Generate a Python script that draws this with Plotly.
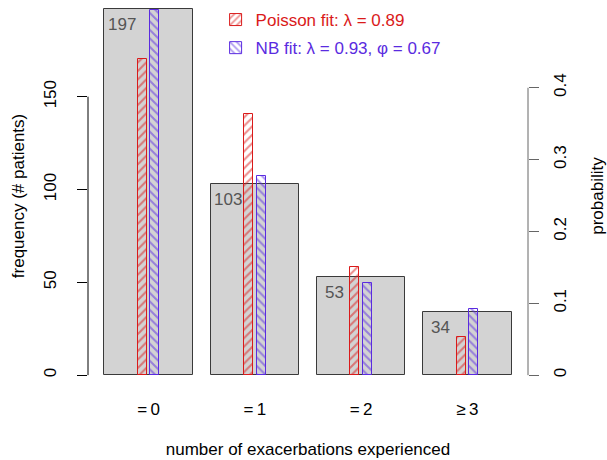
import plotly.graph_objects as go

categories = ["=\u20090", "=\u20091", "=\u20092", "\u2265\u20093"]
counts = [197, 103, 53, 34]
poisson_prob = [0.440, 0.363, 0.150, 0.053]
nb_prob = [0.508, 0.277, 0.128, 0.092]
poisson_name = "Poisson fit: \u03bb = 0.89"
nb_name = "NB fit: \u03bb = 0.93, \u03c6 = 0.67"
left_ticks = [0, 50, 100, 150]
right_ticks = [0, 0.1, 0.2, 0.3, 0.4]

RED = "#DA1A1A"
BLUE = "#5A2BE0"
FONT = "Liberation Sans, Arial, Helvetica, sans-serif"
FS = 17

N = sum(counts)
space, bw = 0.2, 1.0
centers = [space + bw / 2 + i * (space + bw) for i in range(len(counts))]
x_lo = space - 0.04 * (len(counts) * (space + bw) - space)
x_hi = len(counts) * (space + bw) + 0.04 * (len(counts) * (space + bw) - space)
y_rng = [-8, 201]
hw, off = 0.1, 0.071

fig = go.Figure()
fig.add_trace(go.Bar(
    x=centers, y=counts, width=bw,
    marker=dict(color="#D3D3D3", line=dict(color="#3a3a3a", width=1)),
    showlegend=False, hoverinfo="skip"))
fig.add_trace(go.Bar(
    x=[c - off for c in centers], y=poisson_prob, width=hw, yaxis="y2",
    name=f'<span style="color:{RED}">{poisson_name}</span>', legendgroup="p",
    marker=dict(color="rgba(0,0,0,0)", line=dict(color=RED, width=1),
                pattern=dict(shape="/", fgcolor=RED, bgcolor="rgba(0,0,0,0)",
                             fillmode="overlay", size=6, solidity=0.35))))
fig.add_trace(go.Bar(
    x=[c + off for c in centers], y=nb_prob, width=hw, yaxis="y2",
    name=f'<span style="color:{BLUE}">{nb_name}</span>', legendgroup="n",
    marker=dict(color="rgba(0,0,0,0)", line=dict(color=BLUE, width=1),
                pattern=dict(shape="\\", fgcolor=BLUE, bgcolor="rgba(0,0,0,0)",
                             fillmode="overlay", size=6, solidity=0.35))))

for c, v in zip(centers, counts):
    fig.add_annotation(x=c - 0.3, y=v, xref="x", yref="y", text=str(v),
                       showarrow=False, yanchor="middle", xanchor="center",
                       yshift=-15.5, font=dict(family=FONT, size=FS, color="#555555"))

# R-style axis lines spanning only the tick range
fig.add_shape(type="line", xref="paper", yref="y", x0=0, x1=0,
              y0=left_ticks[0], y1=left_ticks[-1], line=dict(color="black", width=1))
fig.add_shape(type="line", xref="paper", yref="y2", x0=1, x1=1,
              y0=right_ticks[0], y1=right_ticks[-1], line=dict(color="#666666", width=1))

fig.update_layout(
    width=607, height=460,
    margin=dict(l=88, r=79, t=2, b=70),
    paper_bgcolor="white", plot_bgcolor="white",
    barmode="overlay", bargap=0,
    font=dict(family=FONT, size=FS, color="black"),
    xaxis=dict(range=[x_lo, x_hi], tickvals=centers, ticktext=categories,
               showgrid=False, zeroline=False, showline=False, ticks="",
               ticklabelstandoff=7, automargin=False,
               title=dict(text="number of exacerbations experienced", standoff=25,
                          font=dict(size=FS))),
    yaxis=dict(range=y_rng, tickvals=left_ticks, ticks="outside", ticklen=10,
               tickcolor="black", tickangle=-90, showgrid=False, zeroline=False,
               showline=False, ticklabelstandoff=14, automargin=False,
               title=dict(text="frequency (# patients)", standoff=12,
                          font=dict(size=FS))),
    yaxis2=dict(range=[y_rng[0] / N, y_rng[1] / N], overlaying="y", side="right",
                tickvals=right_ticks, ticktext=[f"{t:g}" for t in right_ticks],
                ticks="outside", ticklen=10, tickcolor="#666666", tickangle=-90,
                showgrid=False, zeroline=False, showline=False, ticklabelstandoff=7,
                automargin=False,
                title=dict(text="probability", standoff=21, font=dict(size=FS))),
    legend=dict(x=0.29, y=1.0, xanchor="left", yanchor="top",
                bgcolor="rgba(0,0,0,0)", tracegroupgap=3,
                font=dict(family=FONT, size=FS)),
)

fig.write_html("out.html", post_script="document.body.style.margin='0px';",
               config={"displayModeBar": False})
